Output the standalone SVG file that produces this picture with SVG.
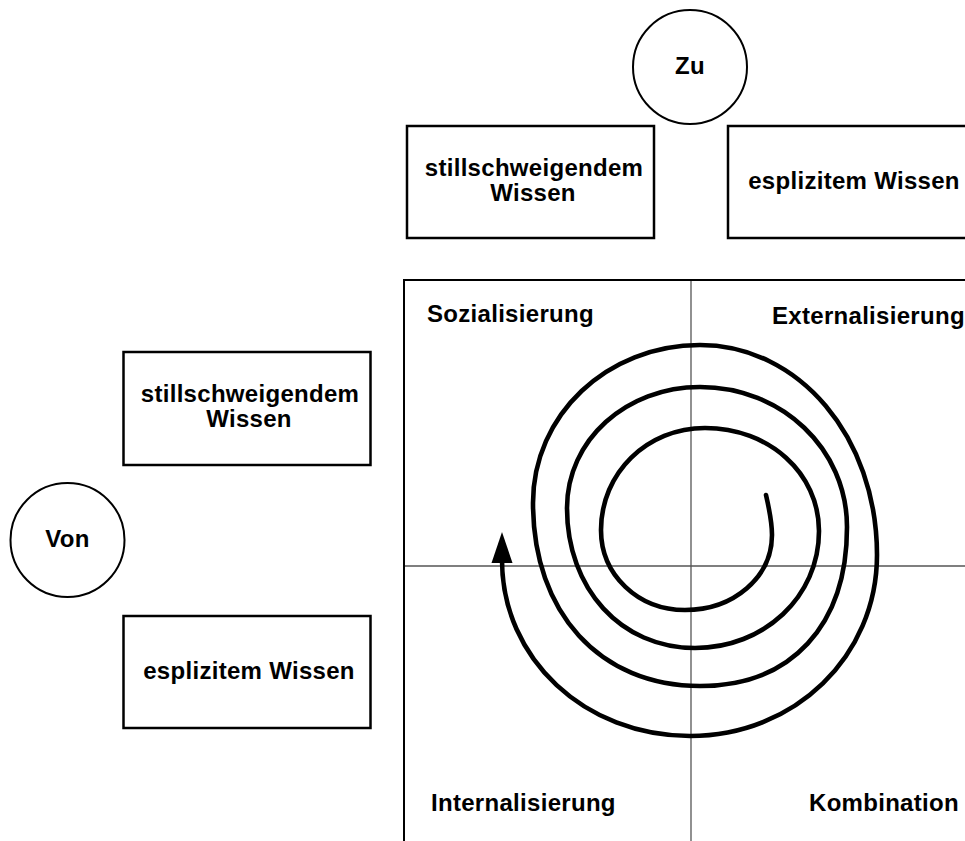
<svg xmlns="http://www.w3.org/2000/svg" width="965" height="841" viewBox="0 0 965 841">
<style>
text{font-family:"Liberation Sans",Arial,sans-serif;font-weight:bold;font-size:24px;fill:#000;letter-spacing:0.3px}
.c{text-anchor:middle}
.box{fill:#fff;stroke:#000;stroke-width:2.5}
.circ{fill:#fff;stroke:#000;stroke-width:2}
.frame{fill:none;stroke:#000;stroke-width:2}
.axis{stroke:#555;stroke-width:1.3}
.spiral{fill:none;stroke:#000;stroke-width:4.6;stroke-linejoin:round;stroke-linecap:round}
</style>
<rect width="965" height="841" fill="#fff"/>
<g id="quadrants">
<line class="axis" x1="691" y1="280" x2="691" y2="841"/>
<line class="axis" x1="404" y1="566" x2="965" y2="566"/>
<path class="frame" d="M404 841 V280 H965"/>
<text x="427" y="322">Sozialisierung</text>
<text x="772" y="324">Externalisierung</text>
<text x="431" y="811">Internalisierung</text>
<text x="809" y="811">Kombination</text>
</g>
<g id="zu">
<circle class="circ" cx="690" cy="67" r="57"/>
<text class="c" x="690" y="74">Zu</text>
</g>
<g id="zu-still">
<rect class="box" x="407" y="126" width="247" height="112"/>
<text class="c" x="534" y="176">stillschweigendem</text>
<text class="c" x="533" y="201">Wissen</text>
</g>
<g id="zu-expl">
<rect class="box" x="728" y="126" width="247" height="112"/>
<text class="c" x="854" y="189">esplizitem Wissen</text>
</g>
<g id="von">
<circle class="circ" cx="67.5" cy="540" r="57"/>
<text class="c" x="67.5" y="547">Von</text>
</g>
<g id="von-still">
<rect class="box" x="123.5" y="352" width="247" height="113"/>
<text class="c" x="250" y="402">stillschweigendem</text>
<text class="c" x="249" y="427">Wissen</text>
</g>
<g id="von-expl">
<rect class="box" x="123.5" y="616" width="247" height="112"/>
<text class="c" x="249" y="679">esplizitem Wissen</text>
</g>
<g id="connectors">
<path class="spiral" d="M766,495 C769,508 772,522 772,535 C772,577 734,610 685,610 C638,610 601,575 601,530 C601,473 647,428 705,428 C769,428 819,473 819,531 C819,597 764,648 695,648 C621,648 567,589 567,508 C567,440 626,387 700,387 C782,387 847,449 847,527 C847,626 791,686 700,686 C600,686 533,613 533,503 C533,415 607,345 700,345 C799,345 877,437 877,555 C877,656 795,736 690,736 C585,736 502,659 502,560"/>
<polygon points="502,532 491.5,563 512.5,563" fill="#000"/>
</g>
</svg>
